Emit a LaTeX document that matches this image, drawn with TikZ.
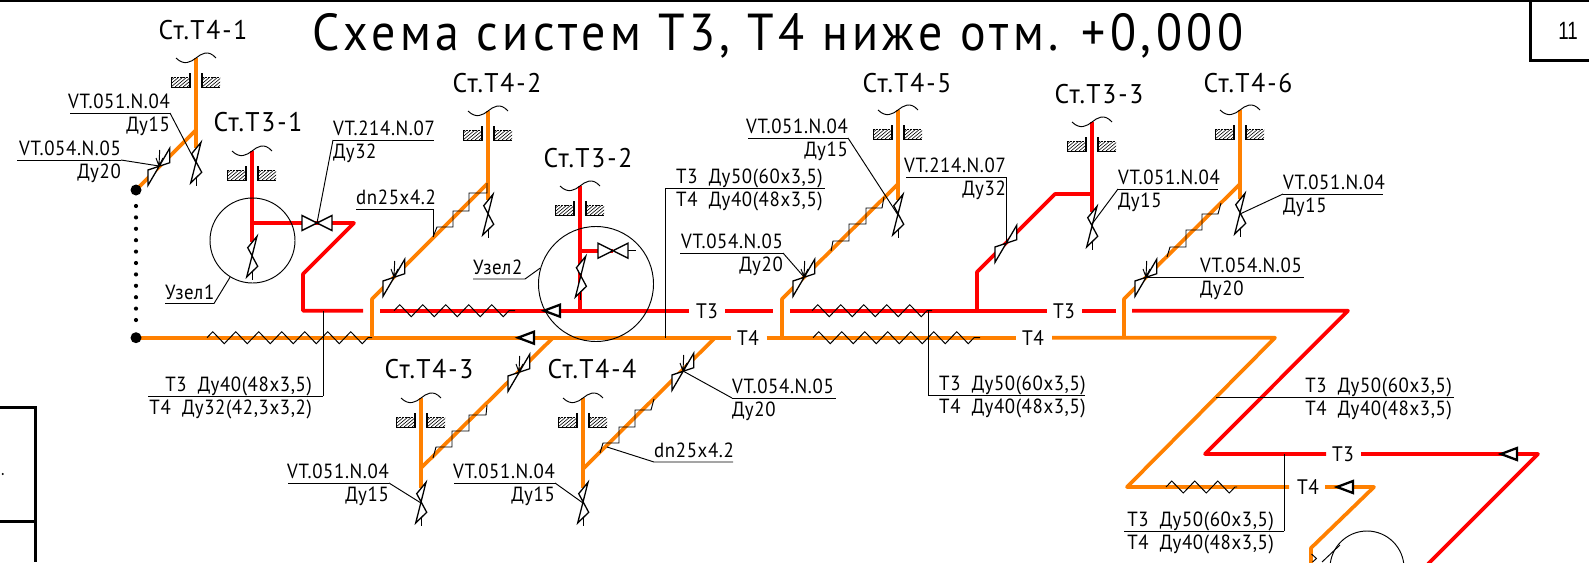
\documentclass[tikz,border=0pt]{standalone}
\usepackage{fontspec}
\setmainfont{PT Sans}
\newfontfamily\labf[FakeStretch=0.92,LetterSpace=3]{PT Sans}
\newfontfamily\stf[FakeStretch=0.95,LetterSpace=7]{PT Sans}
\newfontfamily\titlef[FakeStretch=0.92,LetterSpace=8.6]{PT Sans}
\newfontfamily\numf[FakeStretch=0.75]{Liberation Sans}
\usetikzlibrary{decorations.pathmorphing,calc}
\definecolor{tred}{RGB}{255,0,0}
\definecolor{torange}{RGB}{255,128,0}
\tikzset{
  tr/.style={draw=tred,line width=3.7pt,line join=round},
  to/.style={draw=torange,line width=3.7pt,line join=round},
  thinl/.style={draw=black,line width=0.95pt,line join=miter},
  hatchl/.style={draw=black,line width=0.6pt},
  tick/.style={draw=black,line width=1.9pt},
  frameln/.style={draw=black,line width=2.6pt},
  labt/.style={inner sep=0pt,font=\labf\fontsize{20.5}{22}\selectfont},
  stt/.style={inner sep=0pt,anchor=base,font=\stf\fontsize{27}{29}\selectfont},
  pipet/.style={inner sep=0pt,anchor=base,font=\labf\fontsize{21}{24}\selectfont},
  zz/.style={thinl,decorate,decoration={zigzag,segment length=23pt,amplitude=6pt}},
  dotn/.style={circle,fill=black,inner sep=0pt,minimum size=11pt},
  circn/.style={circle,draw=black,line width=0.95pt,inner sep=0pt},
}
% hatched block of wall: x1, x2 relative to the riser
\newcommand\hatchblk[2]{%
  \begin{scope}
    \clip (#1,19) rectangle (#2,29);
    \foreach \k in {-4,0,...,36} {\draw[hatchl] (#1+\k-12,29) -- (#1+\k,19);}
  \end{scope}
  \draw[hatchl,dashed,dash pattern=on 2pt off 1pt] (#1,19) -- (#2,19);
  \draw[thinl] (#1,29) -- (#2,29);
  \draw[hatchl] (#1,19) -- (#1,29);}
% riser top: break wave and wall sleeve
\newcommand\wallcut[2]{%
  \begin{scope}[shift={(#1,#2)}]
    \draw[thinl] (-20,0) .. controls (-12,8) and (-5,4) .. (0,0) .. controls (5,-4) and (12,-9) .. (20,0);
    \hatchblk{-25}{-6}
    \hatchblk{6}{24}
    \draw[tick] (-6,15) -- (-6,29.5);
    \draw[tick] (6,15) -- (6,29.5);
  \end{scope}}
% vertical ball valve
\newcommand\valveV[1]{%
  \begin{scope}[shift={(#1)}]
    \draw[thinl,line width=1.3pt,fill=white] (-4.3,-9.3) -- (5,-20.7) -- (-5.3,20) -- (5.7,9.3) -- cycle;
    \draw[thinl] (0,14) -- (0,23);
  \end{scope}}
% valve on a 45 degree pipe
\newcommand\valveD[1]{%
  \begin{scope}[shift={(#1)}]
    \draw[thinl,line width=1.3pt,fill=white] (10.7,-17.7) -- (10.7,-3.3) -- (-11,4) -- (-11,19.3) -- cycle;
  \end{scope}}
\newcommand\valveDh[1]{%
  \valveD{#1}
  \begin{scope}[shift={(#1)}]
    \draw[thinl] (0.7,-16) -- (0,0) (-3,-8) -- (0,0) (4,-8) -- (0,0);
  \end{scope}}
% horizontal valve
\newcommand\valveH[1]{%
  \begin{scope}[shift={(#1)}]
    \draw[thinl,line width=1.4pt,fill=white] (-15,-7.5) -- (15,7.5) -- (15,-7.5) -- (-15,7.5) -- cycle;
  \end{scope}}
% flow arrow pointing left
\newcommand\arrL[1]{%
  \begin{scope}[shift={(#1)}]
    \draw[line width=2.3pt,fill=white,line join=miter] (0,0) -- (16,-6) -- (16,6) -- cycle;
  \end{scope}}
% shelf with text above and below: name,x1,x2,y,anchor,xtext,upper,lower
\newcommand\lab[8]{%
  \coordinate (#1-a) at (#2,#4);
  \coordinate (#1-b) at (#3,#4);
  \draw[thinl] (#1-a) -- (#1-b);
  \node[labt,anchor=base #5] (#1-u) at (#6,#4-5) {#7};
  \node[labt,anchor=base #5] (#1-d) at (#6,#4+18) {#8};}
\newcommand\stair[1]{\draw[thinl] #1;}
\begin{document}
\begin{tikzpicture}[x=1pt,y=-1pt]
\path[use as bounding box,clip] (0,0) rectangle (1589,562);
% ---------- frame
\draw[frameln] (0,0.5) -- (1589,0.5);
\draw[frameln] (1530.5,0) -- (1530.5,60.5) -- (1589,60.5);
\node[inner sep=0pt,font=\numf\fontsize{25}{27}\selectfont] (pg) at (1568,31) {11};
\draw[frameln,line width=3pt] (0,407) -- (35,407) -- (35,562);
\draw[frameln,line width=3pt] (0,521) -- (35,521);
\fill (2.7,474) circle (1.1);
% ---------- title
\node[inner sep=0pt,anchor=base,font=\titlef\fontsize{52}{56}\selectfont] (title) at (778,50) {Схема систем Т3, Т4 ниже отм. +0,000};
% ---------- coordinates of the network
\coordinate (m0) at (136,337.7);
\coordinate (d0) at (136,190);
\coordinate (j2) at (372,337.7);
\coordinate (b2) at (372,299);
\coordinate (t2) at (488,183);
\coordinate (r2) at (488,111);
\coordinate (v2) at (488,215);
\coordinate (v2d) at (394,277);
\coordinate (r1) at (196,58);
\coordinate (j1) at (196,130);
\coordinate (v1) at (196,163);
\coordinate (v1d) at (159,166);
\coordinate (r31) at (252,151);
\coordinate (s31) at (252,223);
\coordinate (v31) at (252,257);
\coordinate (vh31) at (317,223);
\coordinate (c31a) at (354,223);
\coordinate (c31b) at (303,274);
\coordinate (c31c) at (303,310.7);
\coordinate (r32) at (580,186);
\coordinate (s32) at (580,250.7);
\coordinate (h32) at (613,250.7);
\coordinate (e32) at (636,250.7);
\coordinate (v32) at (580.7,277);
\coordinate (j32) at (580,310.7);
\coordinate (r3) at (421,398);
\coordinate (b3) at (421,468);
\coordinate (j3) at (553,337.7);
\coordinate (v3) at (421,503);
\coordinate (v3d) at (519,372);
\coordinate (r4) at (583,398);
\coordinate (b4) at (583,469);
\coordinate (j4) at (715,337.7);
\coordinate (v4) at (583,503);
\coordinate (v4d) at (683,371);
\coordinate (j5) at (782,337.7);
\coordinate (b5) at (782,299);
\coordinate (t5) at (898,184);
\coordinate (r5) at (898,110);
\coordinate (v5) at (898,215);
\coordinate (v5d) at (804,277);
\coordinate (s33) at (977,310.7);
\coordinate (b33) at (977,272);
\coordinate (k33) at (1055,194);
\coordinate (t33) at (1092,194);
\coordinate (r33) at (1092,122);
\coordinate (v33) at (1092,227);
\coordinate (v33d) at (1006,243);
\coordinate (j6) at (1124,337.7);
\coordinate (b6) at (1124,299);
\coordinate (t6) at (1240,184);
\coordinate (r6) at (1240,110);
\coordinate (v6) at (1240,214);
\coordinate (v6d) at (1146,277);
\coordinate (zr1) at (1348,310.7);
\coordinate (zr2) at (1205,454);
\coordinate (zr3) at (1538,454);
\coordinate (zr4) at (1428,564);
\coordinate (zo1) at (1275,337.7);
\coordinate (zo2) at (1127,487);
\coordinate (zo3) at (1374,487);
\coordinate (zo4) at (1311,548);
\coordinate (zo5) at (1311,564);
% ---------- T3 (red)
\draw[tr] (r31) -- (s31) -- (c31a) -- (c31b) -- (c31c) -- (363,310.7);
\draw[tr] (s31) -- ($(v31)+(0,-15)$);
\draw[tr] (380,310.7) -- (689,310.7);
\draw[tr] (725,310.7) -- (773,310.7);
\draw[tr] (790,310.7) -- (1047,310.7);
\draw[tr] (1082,310.7) -- (1116,310.7);
\draw[tr] (1132,310.7) -- (zr1) -- (zr2) -- (1326,454);
\draw[tr] (1361,454) -- (zr3) -- (zr4);
\draw[tr] (r32) -- (j32);
\draw[tr] (s32) -- (h32);
\draw[tr] (s33) -- (b33) -- (k33) -- (t33);
\draw[tr] (r33) -- ($(v33)+(0,-15)$);
% ---------- T4 (orange)
\draw[to] (m0) -- (730.5,337.7);
\draw[to] (766.5,337.7) -- (1016,337.7);
\draw[to] (1052,337.7) -- (zo1) -- (zo2) -- (1289,487);
\draw[to] (1325,487) -- (zo3) -- (zo4) -- (zo5);
\draw[to] (r1) -- ($(v1)+(0,-15)$);
\draw[to] (j1) -- (d0);
\draw[to] (j2) -- (b2) -- (t2);
\draw[to] (r2) -- ($(v2)+(0,-15)$);
\draw[to] (j3) -- (b3);
\draw[to] (r3) -- ($(v3)+(0,-15)$);
\draw[to] (j4) -- (b4);
\draw[to] (r4) -- ($(v4)+(0,-15)$);
\draw[to] (j5) -- (b5) -- (t5);
\draw[to] (r5) -- ($(v5)+(0,-15)$);
\draw[to] (j6) -- (b6) -- (t6);
\draw[to] (r6) -- ($(v6)+(0,-15)$);
% ---------- end points and dotted run
\node[dotn] (p1) at (d0) {};
\node[dotn] (p2) at (m0) {};
\draw[line width=4.2pt,line cap=round,dash pattern=on 0pt off 11.4pt] (136,206) -- (136,325);
% ---------- compensators
\draw[zz] (207,337.7) -- (372,337.7);
\draw[zz] (394,310.7) -- (515,310.7);
\draw[zz] (812,310.7) -- (932,310.7);
\draw[zz] (813,337.7) -- (980,337.7);
\draw[zz] (1166,487) -- (1237,487);
% ---------- riser tops
\wallcut{196}{58}
\wallcut{252}{151}
\wallcut{488}{111}
\wallcut{580}{186}
\wallcut{421}{398}
\wallcut{583}{398}
\wallcut{898}{110}
\wallcut{1092}{122}
\wallcut{1240}{110}
% ---------- stairs (pipe slopes)
\stair{(433,237) -- (437,227) -- (453,227) -- (453,211) -- (469,211) -- (469,193) -- (487,193) -- (487,183)}
\stair{(433,458) -- (436,447) -- (452,447) -- (452,431) -- (469,431) -- (469,415) -- (486,415) -- (487,405)}
\stair{(600,453) -- (603,443) -- (619,443) -- (619,427) -- (635,427) -- (635,410) -- (651,410) -- (654,399)}
\stair{(831,251) -- (833,241) -- (849,241) -- (849,224) -- (866,224) -- (866,208) -- (882,208) -- (884,197)}
\stair{(1167,257) -- (1170,247) -- (1186,247) -- (1186,230) -- (1202,230) -- (1202,214) -- (1218,214) -- (1221,203)}
% ---------- valves
\valveV{v1} \valveV{v2} \valveV{v3} \valveV{v4} \valveV{v5} \valveV{v6} \valveV{v31} \valveV{v32} \valveV{v33}
\valveDh{v1d} \valveDh{v2d} \valveDh{v3d} \valveDh{v4d} \valveDh{v5d} \valveDh{v6d}
\valveD{v33d}
\valveH{vh31}
\valveH{h32}
\draw[thinl] (h32) ++(15,0) -- (e32);
% ---------- flow arrows
\arrL{544,310.7} \arrL{518,337.7} \arrL{1501,454} \arrL{1337,487}
% ---------- node circles
\node[circn,minimum size=85pt] (cir1) at (252.5,240.5) {};
\node[circn,minimum size=115pt] (cir2) at (596,284) {};
\node[circn,minimum size=74pt] (cir3) at (1367,568) {};
\draw[thinl] (1322,562) -- (1340,545);
\draw[thinl] (1311.5,554) -- (1316.5,558.5) -- (1312.5,562);
% ---------- pipe names
\node[pipet] (nt3a) at (707,318) {Т3};
\node[pipet] (nt3b) at (1064,318) {Т3};
\node[pipet] (nt3c) at (1343,461) {Т3};
\node[pipet] (nt4a) at (748,345) {Т4};
\node[pipet] (nt4b) at (1033,345) {Т4};
\node[pipet] (nt4c) at (1308,494) {Т4};
% ---------- riser names
\node[stt] (s1) at (203,39) {Ст.Т4-1};
\node[stt] (s2) at (258,131) {Ст.Т3-1};
\node[stt] (s3) at (497,92) {Ст.Т4-2};
\node[stt] (s4) at (588,167) {Ст.Т3-2};
\node[stt] (s5) at (429,378) {Ст.Т4-3};
\node[stt] (s6) at (592,378) {Ст.Т4-4};
\node[stt] (s7) at (907,92) {Ст.Т4-5};
\node[stt] (s8) at (1099,103) {Ст.Т3-3};
\node[stt] (s9) at (1248,92) {Ст.Т4-6};
% ---------- callouts
\lab{la}{70}{170}{113}{east}{170}{VT.051.N.04}{Ду15}
\draw[thinl] (la-b) -- (v1);
\lab{lb}{17}{121}{160}{east}{121}{VT.054.N.05}{Ду20}
\draw[thinl] (lb-b) -- (v1d);
\lab{lc}{333}{434}{140}{west}{333}{VT.214.N.07}{Ду32}
\draw[thinl] (lc-a) -- (vh31);
\lab{ld}{665}{825}{188}{west}{676}{Т3~~Ду50(60x3,5)}{Т4~~Ду40(48x3,5)}
\draw[thinl] (ld-a) -- (665,337.7);
\lab{le}{680}{783}{253}{east}{783}{VT.054.N.05}{Ду20}
\draw[thinl] (le-b) -- (v5d);
\lab{lf}{748}{848}{138}{east}{848}{VT.051.N.04}{Ду15}
\draw[thinl] (lf-b) -- (v5);
\lab{lg}{906}{1006}{177}{east}{1006}{VT.214.N.07}{Ду32}
\draw[thinl] (lg-b) -- (v33d);
\lab{lh}{1118}{1218}{189}{west}{1118}{VT.051.N.04}{Ду15}
\draw[thinl] (lh-a) -- ($(v33)+(0,-3)$);
\lab{li}{1283}{1383}{194}{west}{1283}{VT.051.N.04}{Ду15}
\draw[thinl] (li-a) -- (v6);
\lab{lj}{1200}{1304}{277}{west}{1200}{VT.054.N.05}{Ду20}
\draw[thinl] (lj-a) -- (v6d);
\lab{lk}{148}{323}{396}{east}{312}{Т3~~Ду40(48x3,5)}{Т4~~Ду32(42,3x3,2)}
\draw[thinl] (lk-b) -- (323,310.7);
\lab{ll}{928}{1085}{395}{west}{939}{Т3~~Ду50(60x3,5)}{Т4~~Ду40(48x3,5)}
\draw[thinl] (ll-a) -- (928,310.7);
\lab{lm}{1216}{1454}{397}{east}{1452}{Т3~~Ду50(60x3,5)}{Т4~~Ду40(48x3,5)}
\lab{ln}{1124}{1284}{531}{east}{1274}{Т3~~Ду50(60x3,5)}{Т4~~Ду40(48x3,5)}
\draw[thinl] (ln-b) -- (1284,454);
\lab{lo}{732}{836}{398}{west}{732}{VT.054.N.05}{Ду20}
\draw[thinl] (lo-a) -- (v4d);
\lab{lp}{288}{389}{483}{east}{389}{VT.051.N.04}{Ду15}
\draw[thinl] (lp-b) -- (v3);
\lab{lq}{454}{555}{483}{east}{555}{VT.051.N.04}{Ду15}
\draw[thinl] (lq-b) -- (v4);
% dn25 labels
\coordinate (da) at (356,209);
\coordinate (db) at (433,209);
\draw[thinl] (da) -- (db) -- (433,237);
\node[labt,anchor=base west] (dn1) at (356,204) {dn25x4.2};
\coordinate (dc) at (654,462);
\coordinate (dd) at (733,462);
\draw[thinl] (dd) -- (dc) -- (607,447);
\node[labt,anchor=base west] (dn2) at (654,457) {dn25x4.2};
% unit labels
\coordinate (ua) at (165,303.5);
\coordinate (ub) at (214,303.5);
\draw[thinl] (ua) -- (ub) -- (cir1);
\node[labt,anchor=base west] (u1) at (165,299) {Узел1};
\coordinate (uc) at (473,279);
\coordinate (ud) at (525,279);
\draw[thinl] (uc) -- (ud) -- (cir2.164);
\node[labt,anchor=base west] (u2) at (473,274.5) {Узел2};
\end{tikzpicture}
\end{document}
